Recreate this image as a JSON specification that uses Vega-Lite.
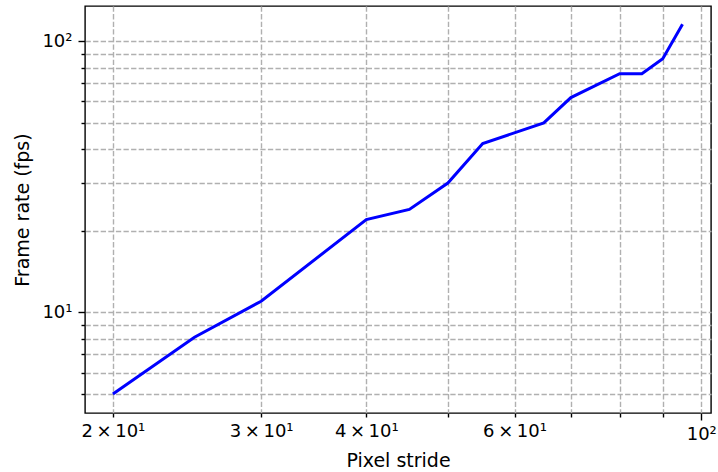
{
  "$schema": "https://vega.github.io/schema/vega-lite/v6.json",
  "autosize": "none",
  "width": 626,
  "height": 407,
  "padding": {"left": 85, "top": 6, "right": 7, "bottom": 59},
  "background": "white",
  "data": {"values": [
    {"stride": 20, "fps": 5.0},
    {"stride": 25, "fps": 8.1},
    {"stride": 30, "fps": 11.0},
    {"stride": 40, "fps": 22.0},
    {"stride": 45, "fps": 24.0},
    {"stride": 50, "fps": 30.0},
    {"stride": 55, "fps": 42.0},
    {"stride": 65, "fps": 50.0},
    {"stride": 70, "fps": 62.0},
    {"stride": 80, "fps": 76.0},
    {"stride": 85, "fps": 76.0},
    {"stride": 90, "fps": 86.3},
    {"stride": 95, "fps": 115.6}
  ]},
  "mark": {"type": "line", "color": "#0000ff", "strokeWidth": 3},
  "encoding": {
    "x": {
      "field": "stride", "type": "quantitative",
      "scale": {"type": "log", "domain": [18.53, 102.7], "nice": false, "zero": false},
      "axis": {
        "title": "Pixel stride",
        "values": [20, 30, 40, 50, 60, 70, 80, 90, 100],
        "labelExpr": "round(datum.value)==20 ? '2\u2009×\u200910¹' : round(datum.value)==30 ? '3\u2009×\u200910¹' : round(datum.value)==40 ? '4\u2009×\u200910¹' : round(datum.value)==60 ? '6\u2009×\u200910¹' : round(datum.value)==100 ? '10²' : ''",
        "tickSize": {"condition": {"test": "round(datum.value)==100", "value": 7}, "value": 4},
        "labelPadding": 5,
        "titlePadding": 8
      }
    },
    "y": {
      "field": "fps", "type": "quantitative",
      "scale": {"type": "log", "domain": [4.257, 135], "nice": false, "zero": false},
      "axis": {
        "title": "Frame rate (fps)",
        "values": [5, 6, 7, 8, 9, 10, 20, 30, 40, 50, 60, 70, 80, 90, 100],
        "labelExpr": "round(datum.value)==10 ? '10¹' : round(datum.value)==100 ? '10²' : ''",
        "tickSize": {"condition": {"test": "round(datum.value)==10 || round(datum.value)==100", "value": 7}, "value": 4},
        "labelPadding": 6,
        "titlePadding": 9
      }
    }
  },
  "config": {
    "view": {"stroke": "black", "strokeWidth": 1.4},
    "axis": {
      "domain": false,
      "grid": true,
      "gridColor": "#b0b0b0",
      "gridWidth": 1.4,
      "gridDash": [5.3, 2.3],
      "gridOpacity": 1,
      "ticks": true,
      "tickColor": "black",
      "tickWidth": 1.4,
      "labelFont": "DejaVu Sans",
      "labelFontSize": 18,
      "labelColor": "black",
      "labelOverlap": false,
      "labelFlush": false,
      "titleFont": "DejaVu Sans",
      "titleFontSize": 19,
      "titleFontWeight": "normal",
      "titleColor": "black"
    }
  }
}
